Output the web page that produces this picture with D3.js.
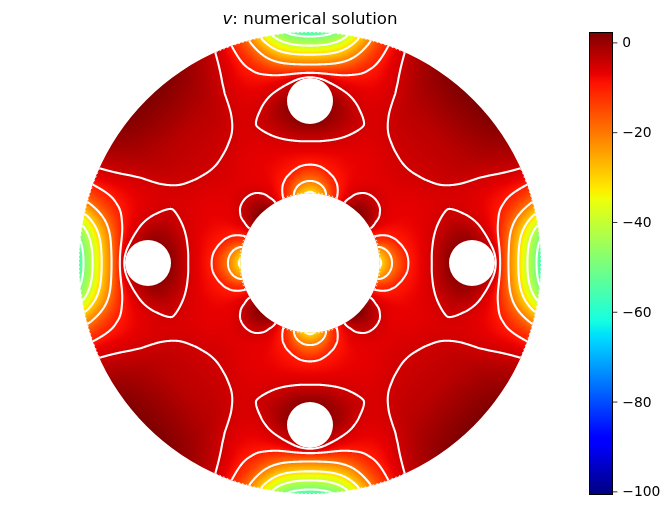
<!DOCTYPE html>
<html><head><meta charset="utf-8">
<script src="https://cdn.jsdelivr.net/npm/d3@7/dist/d3.min.js"></script>
<style>
html,body{margin:0;padding:0;background:#fff;}
#wrap{position:relative;width:669px;height:528px;overflow:hidden;}
canvas,svg{position:absolute;left:0;top:0;}
text{font-family:"DejaVu Sans",sans-serif;fill:#000;}
</style></head><body><div id="wrap"><canvas id="c" width="669" height="528"></canvas><svg id="s" width="669" height="528"></svg></div>
<script>
// Annulus geometry in field units
const outerRadius = 231, innerRadius = 69.5, holeRadius = 23, holeDistance = 162;
const holeAngles = [0, 90, 180, 270];
const contourLevels = [-50, -40, -30, -20, -10, -5];
const colorbarTicks = [0, -20, -40, -60, -80, -100];
const colorDomain = [-100.7, 2.2];
// Sampled field, one eighth of the annulus: angle from a hole axis, then [radius, value] pairs
const sampleAngles = [0, 4, 8, 12, 16, 20, 24, 28, 32, 36, 40, 45];
const sampleProfiles = [
 [[70,-32],[72,-30],[82,-20],[98,-10],[110,-7.5],[122,-5],[132,-1.5],[139,1],[162,2],[180,-2.5],[187.5,-5],[190,-10],[198,-20],[208,-30],[217,-40],[226,-50],[231,-58]],
 [[70,-30],[81.5,-20],[97.5,-10],[110,-7.5],[122,-5],[133,-1.5],[140,1],[162,1.5],[178,-2.5],[185,-5],[190,-10],[199,-20],[209,-30],[218,-40],[228,-50],[231,-54]],
 [[70,-27],[79,-20],[94.5,-10],[110,-7.5],[124,-5],[134,-2],[145,0],[160,0.5],[172,-3],[179,-5],[190,-10],[201.5,-20],[213,-30],[224,-40],[231,-46]],
 [[70,-23],[74.5,-20],[90.5,-10],[110,-7.5],[127,-5],[139,-2.5],[152,-1],[162,-2],[174,-5],[193,-10],[210,-20],[228,-30],[231,-31]],
 [[70,-15],[86,-10],[110,-7.5],[133,-5],[148,-3.5],[164,-5],[202,-10],[231,-17]],
 [[70,-11.5],[80,-10],[105,-7.5],[141,-5],[148,-4.4],[155,-5],[200,-8.5],[231,-9]],
 [[70,-9],[90,-8],[140,-6],[165,-6],[200,-6],[231,-5]],
 [[70,-7],[110,-7],[150,-5.6],[170,-5],[190,-4.6],[231,-2]],
 [[70,-2.5],[77,-5],[95,-7],[120,-6.8],[148,-5],[231,0]],
 [[70,-0.5],[86,-5],[100,-6.8],[125,-6.2],[141,-5],[190,-2.6],[231,1.5]],
 [[70,1],[90,-5],[105,-6.6],[125,-5.6],[137,-5],[180,-3],[231,2.2]],
 [[70,2],[91,-5],[110,-6.5],[125,-5.5],[135,-5],[180,-3],[231,2.3]]
];
// Matplotlib jet breakpoints
const jetRed = [[0,0],[.35,0],[.66,1],[.89,1],[1,.5]];
const jetGreen = [[0,0],[.125,0],[.375,1],[.64,1],[.91,0],[1,0]];
const jetBlue = [[0,.5],[.11,1],[.34,1],[.65,0],[1,0]];

const x = d3.scaleLinear().domain([-outerRadius, outerRadius]).range([79, 541]);
const y = d3.scaleLinear().domain([-outerRadius, outerRadius]).range([32, 494]);
const channel = s => d3.scaleLinear().domain(s.map(d=>d[0])).range(s.map(d=>d[1])).clamp(true);
const [cr,cg,cb] = [channel(jetRed),channel(jetGreen),channel(jetBlue)];
const unit = d3.scaleLinear().domain(colorDomain).range([0,1]).clamp(true);
const jet = v => { const t=unit(v); return [cr(t)*255,cg(t)*255,cb(t)*255]; };

const profileFns = sampleProfiles.map(p => d3.scaleLinear().domain(p.map(d=>d[0])).range(p.map(d=>d[1])).clamp(true));
function field(r, deg){
  let a = ((deg%90)+90)%90;
  if(a>45) a = 90-a;
  let i = d3.bisectRight(sampleAngles,a)-1;
  i = Math.max(0,Math.min(sampleAngles.length-2,i));
  const f = (a-sampleAngles[i])/(sampleAngles[i+1]-sampleAngles[i]);
  return profileFns[i](r)*(1-f)+profileFns[i+1](r)*f;
}
// Resample on a fine polar grid and smooth it there
const rMin=55, rStep=.5, nR=380, tMin=-20, tStep=.25, nT=1600;
const polar = new Float64Array(nR*nT);
for(let j=0;j<nR;j++) for(let i=0;i<nT;i++) polar[j*nT+i]=field(rMin+j*rStep,tMin+i*tStep);
d3.blur2({data:polar,width:nT,height:nR},7,2);
function polarAt(px,py){
  const r=Math.hypot(px,py); let d=Math.atan2(py,px)*180/Math.PI; if(d<0) d+=360;
  const u=(d-tMin)/tStep, v=Math.max(0,Math.min(nR-1.001,(r-rMin)/rStep));
  const i=Math.floor(u), j=Math.floor(v), fu=u-i, fv=v-j;
  const at=(a,b)=>polar[b*nT+a];
  return (at(i,j)*(1-fu)+at(i+1,j)*fu)*(1-fv)+(at(i,j+1)*(1-fu)+at(i+1,j+1)*fu)*fv;
}
// Cartesian grid, 2 samples per px
const ss = 2, pad = 4;
const W = (462+2*pad)*ss, H = W;
const gx = i => x.invert(79-pad+(i+.5)/ss), gy = j => y.invert(32-pad+(j+.5)/ss);
const vals = new Float64Array(W*H);
for(let j=0;j<H;j++) for(let i=0;i<W;i++) vals[j*W+i]=polarAt(gx(i),gy(j));

// Heat map
const off = document.createElement('canvas'); off.width=W; off.height=H;
const octx = off.getContext('2d'), img = octx.createImageData(W,H);
for(let k=0;k<W*H;k++){ const c=jet(vals[k]); img.data[4*k]=c[0];img.data[4*k+1]=c[1];img.data[4*k+2]=c[2];img.data[4*k+3]=255; }
octx.putImageData(img,0,0);
const pxScale = x(1)-x(0);
function domainPath(p){
  p.moveTo(x(outerRadius),y(0)); p.arc(x(0),y(0),outerRadius*pxScale,0,2*Math.PI);
  p.moveTo(x(innerRadius),y(0)); p.arc(x(0),y(0),innerRadius*pxScale,0,2*Math.PI);
  holeAngles.forEach(a=>{
    const cx=x(holeDistance*Math.cos(a*Math.PI/180)), cy=y(holeDistance*Math.sin(a*Math.PI/180));
    p.moveTo(cx+holeRadius*pxScale,cy); p.arc(cx,cy,holeRadius*pxScale,0,2*Math.PI);
  });
  return p;
}
const ctx = document.getElementById('c').getContext('2d');
ctx.fillStyle='#fff'; ctx.fillRect(0,0,669,528);
ctx.save(); ctx.beginPath(); domainPath(ctx); ctx.clip('evenodd');
ctx.drawImage(off,79-pad,32-pad,W/ss,H/ss);
ctx.restore();

// Contours + overlay
const svg = d3.select('#s');
const clipP = d3.path(); domainPath(clipP);
svg.append('clipPath').attr('id','dom').append('path').attr('d',clipP.toString()).attr('clip-rule','evenodd');
const contours = d3.contours().size([W,H]).thresholds(contourLevels)(vals);
const proj = d3.geoTransform({point(a,b){ this.stream.point(79-pad+a/ss, 32-pad+b/ss); }});
svg.append('g').attr('clip-path','url(#dom)').selectAll('path').data(contours).join('path')
  .attr('d',d3.geoPath(proj)).attr('fill','none').attr('stroke','#fff').attr('stroke-width',2.1);

// Speckled rim where contours hit the hot edges
const rimHalfWidthOuter = 24, rimHalfWidthInner = 22;
const rimArc = (rad,c,h)=>{const q=d3.path(); const a0=(c-h)*Math.PI/180,a1=(c+h)*Math.PI/180;
  q.arc(x(0),y(0),rad*pxScale,a0,a1); return q.toString();};
holeAngles.forEach(c=>{
  svg.append('path').attr('d',rimArc(outerRadius-.3,c,rimHalfWidthOuter)).attr('fill','none').attr('stroke','#fff').attr('stroke-width',1).attr('stroke-dasharray','1.5 2.5');
  svg.append('path').attr('d',rimArc(innerRadius+.8,c,rimHalfWidthInner)).attr('fill','none').attr('stroke','#fff').attr('stroke-width',1).attr('stroke-dasharray','1.5 2');
});

// Title
const title = svg.append('text').attr('x',310).attr('y',24).attr('text-anchor','middle').attr('font-size',16.67);
title.append('tspan').attr('font-style','italic').text('v');
title.append('tspan').text(': numerical solution');

// Colorbar
const barX0=589.5, barX1=612.5, barTop=32.5, barBottom=494.5;
const cbScale = d3.scaleLinear().domain(colorDomain).range([barBottom,barTop]);
for(let py=Math.floor(barTop);py<barBottom;py++){
  const c=jet(cbScale.invert(py+.5)); ctx.fillStyle=`rgb(${c.map(Math.round).join(',')})`;
  ctx.fillRect(barX0,py,barX1-barX0,1);
}
const axis = d3.axisRight(cbScale).tickValues(colorbarTicks).tickSize(4.9).tickPadding(4.9)
  .tickFormat(d=>d<0?'\u2212'+Math.abs(d):String(d));
const g = svg.append('g').attr('transform',`translate(${barX1},0)`).call(axis);
g.select('.domain').remove();
g.selectAll('text').attr('font-size',13.89).attr('font-family','"DejaVu Sans",sans-serif');
g.selectAll('line').attr('stroke','#000').attr('stroke-width',.8);
svg.append('rect').attr('x',barX0).attr('y',barTop).attr('width',barX1-barX0).attr('height',barBottom-barTop)
  .attr('fill','none').attr('stroke','#000').attr('stroke-width',1);
</script></body></html>
